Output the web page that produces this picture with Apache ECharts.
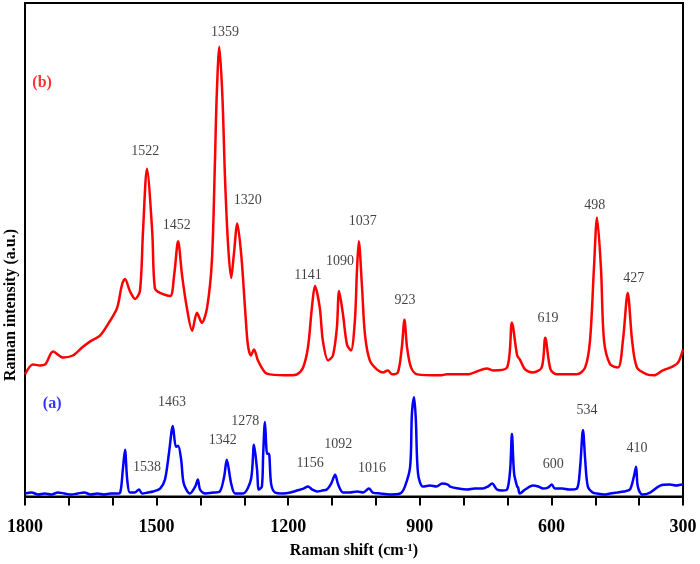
<!DOCTYPE html>
<html>
<head>
<meta charset="utf-8">
<script src="https://cdn.jsdelivr.net/npm/echarts@6/dist/echarts.min.js"></script>
<style>
html,body{margin:0;padding:0;background:#fff;}
#chart{width:700px;height:564px;}
</style>
</head>
<body>
<div id="chart"></div>
<script>
// Spectrum (b) — red
const redShift = [1800,1782,1766,1754,1736,1713,1691,1670,1652,1629,1606,1590,1579,1572,1561,1549,1538,1531,1522,1510,1504,1492,1469,1460,1451,1442,1431,1419,1408,1397,1385,1374,1367,1363,1357,1350,1344,1337,1330,1324,1316,1307,1298,1292,1285,1278,1269,1253,1242,1196,1180,1166,1155,1146,1139,1128,1121,1109,1098,1089,1084,1075,1066,1057,1048,1043,1039,1032,1025,1014,998,984,973,963,950,941,935,929,920,906,854,838,792,747,733,701,690,678,672,660,642,622,614,602,587,542,523,512,503,496,487,480,466,448,437,426,416,405,382,366,346,323,311,300];
const redIntensity = [123,133,132,133,146,140,142,150,156,162,177,190,213,219,207,199,207,267,330,267,210,205,202,223,257,223,190,167,185,175,190,237,337,403,453,403,320,253,220,243,275,243,187,153,142,148,137,125,123,122,123,130,150,190,212,190,157,137,142,170,207,183,153,147,177,230,257,213,163,137,128,125,127,123,125,150,178,150,130,123,122,123,123,129,127,130,175,142,138,128,125,130,160,128,123,123,130,157,230,281,230,157,133,130,157,205,157,130,123,122,127,131,135,148];

// Spectrum (a) — blue
const blueShift = [1800,1785,1770,1755,1740,1725,1710,1695,1680,1665,1650,1635,1620,1605,1592,1583,1577,1572,1567,1561,1550,1540,1533,1520,1508,1492,1481,1472,1463,1456,1451,1444,1438,1424,1412,1406,1401,1390,1370,1356,1346,1340,1330,1321,1303,1285,1278,1271,1267,1260,1257,1253,1248,1244,1239,1230,1212,1195,1180,1165,1155,1145,1134,1122,1112,1102,1093,1086,1075,1060,1043,1029,1016,1007,990,968,945,934,922,918,913,909,904,893,877,862,849,836,831,812,792,775,756,745,735,724,712,701,694,690,685,678,676,672,660,642,630,619,608,599,592,575,560,542,535,528,523,517,506,496,480,466,450,435,421,412,407,403,393,375,352,330,315,302,300];
const blueIntensity = [3,4,2,3,2,4,3,2,3,4,2,3,2,3,3,4,27,47,17,4,4,7,3,4,5,8,17,43,71,50,51,37,13,3,10,17,7,3,4,5,20,37,13,3,3,17,52,27,7,10,43,75,43,43,13,4,3,4,6,8,10,7,5,6,7,13,22,12,4,4,5,4,8,4,3,2,3,10,30,83,100,77,23,10,11,10,13,12,10,8,7,8,8,10,13,7,6,7,27,63,23,10,9,3,7,11,10,8,9,12,8,8,7,8,27,67,37,10,4,3,2,3,4,5,7,20,30,10,2,4,11,12,11,12,12];

// Peak annotations
const redPeakText = ['1359','1522','1452','1320','1141','1090','1037','923','619','498','427'];
const redPeakShift = [1344,1526,1454,1292,1155,1082,1030,934,608,501,412];
const redPeakY = [467,348,273,298,223,237,277,198,179,293,220];
const bluePeakText = ['1463','1538','1342','1278','1156','1092','1016','600','534','410'];
const bluePeakShift = [1465,1522,1349,1298,1150,1086,1009,596,519,405];
const bluePeakY = [95,29,57,76,33,53,28,32,87,49];

const seriesTags = ['(b)','(a)'];
const seriesTagShift = [1761,1738];
const seriesTagY = [417,93];

const xMajorTicks = [1800,1500,1200,900,600,300];

const chart = echarts.init(document.getElementById('chart'), null, {renderer:'canvas'});
const serif = '"Liberation Serif","Times New Roman",serif';

function zip(xs, ys){ return xs.map((x,i)=>[x, ys[i]]); }
function labelData(texts, xs, ys){ return texts.map((t,i)=>({name:t, value:[xs[i], ys[i]]})); }

const option = {
  animation:false,
  backgroundColor:'#fff',
  grid:{left:25, right:17, top:3, bottom:64, show:true, borderColor:'#000', borderWidth:2},
  xAxis:{
    type:'value', inverse:true, min:300, max:1800, interval:100,
    axisLine:{show:true, lineStyle:{color:'#000', width:2}},
    axisTick:{show:true, inside:false, length:9, lineStyle:{color:'#000', width:2}},
    splitLine:{show:false},
    axisLabel:{
      margin:22, color:'#000', fontFamily:serif, fontWeight:'bold', fontSize:18,
      formatter:v=> xMajorTicks.indexOf(v) >= 0 ? String(v) : ''
    },
    name:'{a|Raman shift (cm}{s|-1}{a|)}',
    nameLocation:'middle', nameGap:46,
    nameTextStyle:{
      rich:{
        a:{fontFamily:serif, fontWeight:'bold', fontSize:16, color:'#000'},
        s:{fontFamily:serif, fontWeight:'bold', fontSize:11, color:'#000', verticalAlign:'top', padding:[0,0,6,0]}
      }
    }
  },
  yAxis:{
    type:'value', min:0, max:497,
    axisLine:{show:true, lineStyle:{color:'#000', width:2}},
    axisTick:{show:false}, axisLabel:{show:false}, splitLine:{show:false}
  },
  graphic:[{
    type:'text', x:11, y:305, rotation:Math.PI/2,
    style:{text:'Raman intensity (a.u.)', fontFamily:serif, fontWeight:'bold', fontSize:16, fill:'#000', align:'center', verticalAlign:'middle'}
  }],
  series:[
    {type:'line', data:zip(redShift, redIntensity), showSymbol:false, smooth:0.3,
     lineStyle:{color:'#ff0000', width:2.5}, itemStyle:{color:'#ff0000'}, z:3},
    {type:'line', data:zip(blueShift, blueIntensity), showSymbol:false, smooth:0.3,
     lineStyle:{color:'#0000ff', width:2.5}, itemStyle:{color:'#0000ff'}, z:3},
    {type:'scatter', symbolSize:0, silent:true,
     data:labelData(redPeakText, redPeakShift, redPeakY).concat(labelData(bluePeakText, bluePeakShift, bluePeakY)),
     label:{show:true, position:'inside', formatter:p=>p.name, fontFamily:serif, fontSize:14, color:'#111'}},
    {type:'scatter', symbolSize:0, silent:true,
     data:[{name:seriesTags[0], value:[seriesTagShift[0], seriesTagY[0]], label:{color:'#ff0000'}},
           {name:seriesTags[1], value:[seriesTagShift[1], seriesTagY[1]], label:{color:'#0000ff'}}],
     label:{show:true, position:'inside', formatter:p=>p.name, fontFamily:serif, fontSize:16, fontWeight:'bold'}}
  ]
};
chart.setOption(option);
</script>
</body>
</html>
